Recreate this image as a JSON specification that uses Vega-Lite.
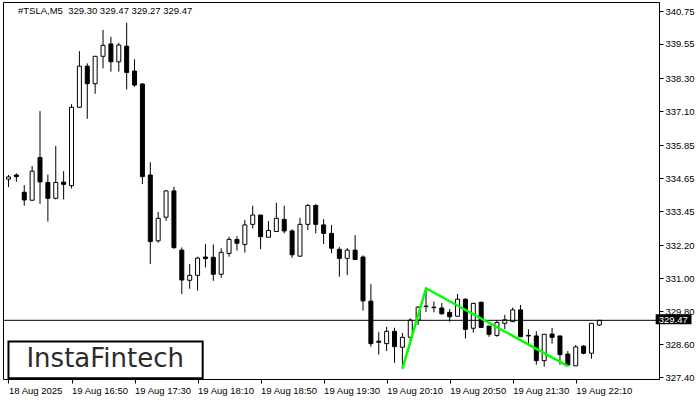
{
  "$schema": "https://vega.github.io/schema/vega-lite/v6.json",
  "width": 656,
  "height": 377,
  "autosize": "none",
  "padding": {"left": 3, "top": 2, "right": 41, "bottom": 21},
  "background": "white",
  "title": {
    "text": "#TSLA,M5\u00a0 329.30 329.47 329.27 329.47",
    "anchor": "start",
    "frame": "group",
    "offset": -13,
    "dx": 15,
    "fontSize": 9.5,
    "font": "Liberation Sans",
    "fontWeight": "normal",
    "color": "#000000"
  },
  "datasets": {
    "bars": [
      {"i": 0, "o": 334.62, "h": 334.77, "l": 334.33, "c": 334.70},
      {"i": 1, "o": 334.77, "h": 334.83, "l": 334.52, "c": 334.71},
      {"i": 2, "o": 334.14, "h": 334.40, "l": 333.65, "c": 333.86},
      {"i": 3, "o": 333.85, "h": 335.10, "l": 333.84, "c": 334.91},
      {"i": 4, "o": 335.41, "h": 337.10, "l": 333.72, "c": 334.52},
      {"i": 5, "o": 334.50, "h": 334.79, "l": 333.07, "c": 333.92},
      {"i": 6, "o": 333.92, "h": 335.83, "l": 333.88, "c": 334.50},
      {"i": 7, "o": 334.51, "h": 334.91, "l": 333.88, "c": 334.43},
      {"i": 8, "o": 334.38, "h": 337.35, "l": 334.28, "c": 337.24},
      {"i": 9, "o": 337.24, "h": 339.29, "l": 337.22, "c": 338.74},
      {"i": 10, "o": 338.74, "h": 338.84, "l": 336.82, "c": 338.10},
      {"i": 11, "o": 338.10, "h": 339.10, "l": 337.73, "c": 339.10},
      {"i": 12, "o": 339.10, "h": 340.06, "l": 338.66, "c": 339.50},
      {"i": 13, "o": 339.55, "h": 339.81, "l": 338.54, "c": 338.90},
      {"i": 14, "o": 338.90, "h": 339.59, "l": 338.54, "c": 339.51},
      {"i": 15, "o": 339.47, "h": 340.32, "l": 337.89, "c": 338.51},
      {"i": 16, "o": 338.56, "h": 338.99, "l": 337.99, "c": 338.05},
      {"i": 17, "o": 338.09, "h": 338.12, "l": 334.44, "c": 334.71},
      {"i": 18, "o": 334.77, "h": 335.24, "l": 331.52, "c": 332.34},
      {"i": 19, "o": 332.37, "h": 333.42, "l": 332.30, "c": 333.19},
      {"i": 20, "o": 333.23, "h": 334.22, "l": 333.10, "c": 334.19},
      {"i": 21, "o": 334.19, "h": 334.34, "l": 332.08, "c": 332.12},
      {"i": 22, "o": 332.03, "h": 332.13, "l": 330.43, "c": 330.94},
      {"i": 23, "o": 330.93, "h": 331.52, "l": 330.62, "c": 331.11},
      {"i": 24, "o": 331.11, "h": 331.79, "l": 330.55, "c": 331.74},
      {"i": 25, "o": 331.78, "h": 332.25, "l": 331.40, "c": 331.72},
      {"i": 26, "o": 331.77, "h": 332.24, "l": 330.91, "c": 331.15},
      {"i": 27, "o": 331.15, "h": 332.10, "l": 331.02, "c": 331.95},
      {"i": 28, "o": 331.91, "h": 332.52, "l": 331.79, "c": 332.42},
      {"i": 29, "o": 332.42, "h": 332.54, "l": 332.01, "c": 332.28},
      {"i": 30, "o": 332.24, "h": 333.13, "l": 331.94, "c": 332.95},
      {"i": 31, "o": 332.97, "h": 333.65, "l": 332.82, "c": 333.31},
      {"i": 32, "o": 333.31, "h": 333.31, "l": 332.07, "c": 332.52},
      {"i": 33, "o": 332.50, "h": 333.09, "l": 332.50, "c": 332.75},
      {"i": 34, "o": 332.71, "h": 333.76, "l": 332.71, "c": 333.19},
      {"i": 35, "o": 333.15, "h": 333.65, "l": 332.64, "c": 332.73},
      {"i": 36, "o": 332.73, "h": 332.79, "l": 331.75, "c": 331.86},
      {"i": 37, "o": 331.81, "h": 333.21, "l": 331.80, "c": 332.97},
      {"i": 38, "o": 332.97, "h": 333.71, "l": 332.76, "c": 333.66},
      {"i": 39, "o": 333.66, "h": 333.71, "l": 332.64, "c": 332.97},
      {"i": 40, "o": 332.95, "h": 333.16, "l": 332.25, "c": 332.64},
      {"i": 41, "o": 332.64, "h": 332.95, "l": 331.92, "c": 332.10},
      {"i": 42, "o": 332.06, "h": 332.14, "l": 331.06, "c": 331.73},
      {"i": 43, "o": 331.73, "h": 332.11, "l": 331.12, "c": 332.03},
      {"i": 44, "o": 332.03, "h": 332.58, "l": 331.69, "c": 331.69},
      {"i": 45, "o": 331.78, "h": 331.84, "l": 329.82, "c": 330.18},
      {"i": 46, "o": 330.17, "h": 330.79, "l": 328.51, "c": 328.62},
      {"i": 47, "o": 328.71, "h": 329.05, "l": 328.22, "c": 328.67},
      {"i": 48, "o": 328.62, "h": 329.23, "l": 328.35, "c": 329.07},
      {"i": 49, "o": 329.07, "h": 329.20, "l": 327.92, "c": 328.51},
      {"i": 50, "o": 328.49, "h": 329.01, "l": 327.70, "c": 328.85},
      {"i": 51, "o": 328.85, "h": 329.54, "l": 328.57, "c": 329.48},
      {"i": 52, "o": 329.48, "h": 329.98, "l": 329.30, "c": 329.95},
      {"i": 53, "o": 329.99, "h": 330.62, "l": 329.78, "c": 329.97},
      {"i": 54, "o": 329.95, "h": 330.16, "l": 329.76, "c": 329.93},
      {"i": 55, "o": 329.92, "h": 330.10, "l": 329.68, "c": 329.71},
      {"i": 56, "o": 329.76, "h": 329.88, "l": 329.42, "c": 329.60},
      {"i": 57, "o": 329.62, "h": 330.43, "l": 329.62, "c": 330.24},
      {"i": 58, "o": 330.24, "h": 330.27, "l": 328.81, "c": 329.14},
      {"i": 59, "o": 329.18, "h": 330.11, "l": 329.02, "c": 330.09},
      {"i": 60, "o": 330.13, "h": 330.15, "l": 329.19, "c": 329.21},
      {"i": 61, "o": 329.26, "h": 329.27, "l": 328.87, "c": 328.96},
      {"i": 62, "o": 328.92, "h": 329.47, "l": 328.87, "c": 329.39},
      {"i": 63, "o": 329.36, "h": 329.67, "l": 329.15, "c": 329.49},
      {"i": 64, "o": 329.42, "h": 329.94, "l": 329.42, "c": 329.85},
      {"i": 65, "o": 329.85, "h": 330.03, "l": 328.87, "c": 328.87},
      {"i": 66, "o": 328.92, "h": 329.14, "l": 328.53, "c": 328.90},
      {"i": 67, "o": 328.90, "h": 329.07, "l": 327.85, "c": 328.00},
      {"i": 68, "o": 328.00, "h": 328.96, "l": 327.78, "c": 328.96},
      {"i": 69, "o": 328.97, "h": 329.19, "l": 328.62, "c": 328.85},
      {"i": 70, "o": 328.90, "h": 328.90, "l": 327.85, "c": 328.22},
      {"i": 71, "o": 328.24, "h": 328.35, "l": 327.80, "c": 327.84},
      {"i": 72, "o": 327.81, "h": 328.57, "l": 327.81, "c": 328.50},
      {"i": 73, "o": 328.53, "h": 328.56, "l": 328.23, "c": 328.27},
      {"i": 74, "o": 328.27, "h": 329.36, "l": 328.07, "c": 329.36},
      {"i": 75, "o": 329.30, "h": 329.47, "l": 329.27, "c": 329.47}
    ],
    "pattern": [
      {"i": 50, "p": 327.70},
      {"i": 53, "p": 330.64},
      {"i": 71, "p": 327.80}
    ]
  },
  "layer": [
    {
      "data": {"name": "bars"},
      "mark": {"type": "rule", "color": "black", "strokeWidth": 1, "clip": true},
      "encoding": {
        "x": {
          "field": "i",
          "type": "quantitative",
          "title": null,
          "scale": {"domain": [-0.0625, 81.9375], "nice": false, "zero": false},
          "axis": {
            "orient": "bottom",
            "values": [0, 8, 16, 24, 32, 40, 48, 56, 64, 72],
            "tickCount": 30,
            "labelExpr": "datum.value == 0 ? '18 Aug 2025' : '19 Aug ' + floor((970 + 5 * datum.value) / 60) + ':' + ((970 + 5 * datum.value) % 60)",
            "labelAlign": "left",
            "labelBaseline": "top",
            "labelPadding": 2,
            "labelFlush": false,
            "labelOverlap": false,
            "title": null
          }
        },
        "y": {
          "field": "l",
          "type": "quantitative",
          "title": null,
          "scale": {"domain": [327.33, 341.08], "nice": false, "zero": false},
          "axis": {
            "orient": "right",
            "values": [327.4, 328.6, 329.8, 331, 332.2, 333.45, 334.65, 335.85, 337.1, 338.3, 339.55, 340.75],
            "tickCount": 30,
            "format": ".2f",
            "labelPadding": 2,
            "labelBaseline": "middle",
            "labelOverlap": false,
            "labelFlush": false,
            "labelBound": false,
            "title": null
          }
        },
        "y2": {"field": "h"}
      }
    },
    {
      "data": {"name": "bars"},
      "mark": {"type": "bar", "width": 4, "stroke": "black", "strokeWidth": 1, "clip": true},
      "encoding": {
        "x": {"field": "i", "type": "quantitative", "title": null},
        "y": {"field": "o", "type": "quantitative", "title": null},
        "y2": {"field": "c"},
        "fill": {
          "condition": {"test": "datum.c >= datum.o", "value": "white"},
          "value": "black"
        }
      }
    },
    {
      "data": {"values": [{}]},
      "mark": {"type": "rule", "color": "black", "strokeWidth": 1},
      "encoding": {"y": {"datum": 329.47, "type": "quantitative", "title": null}}
    },
    {
      "data": {"name": "pattern"},
      "mark": {"type": "line", "color": "#00FF00", "strokeWidth": 2.5, "clip": true},
      "encoding": {
        "x": {"field": "i", "type": "quantitative", "title": null},
        "y": {"field": "p", "type": "quantitative", "title": null}
      }
    },
    {
      "data": {"values": [{}]},
      "mark": {"type": "rect", "fill": "white", "stroke": "black", "strokeWidth": 2},
      "encoding": {
        "x": {"datum": 0, "type": "quantitative", "title": null},
        "x2": {"datum": 24.65},
        "y": {"datum": 328.70, "type": "quantitative", "title": null},
        "y2": {"datum": 327.36}
      }
    },
    {
      "data": {"values": [{}]},
      "mark": {"type": "text", "text": "InstaFintech", "font": "DejaVu Sans", "fontSize": 26, "color": "#2b2b2b", "align": "center", "baseline": "middle"},
      "encoding": {
        "x": {"datum": 12.28, "type": "quantitative", "title": null},
        "y": {"datum": 328.05, "type": "quantitative", "title": null}
      }
    },
    {
      "data": {"values": [{}]},
      "mark": {"type": "rect", "fill": "black", "clip": false},
      "encoding": {
        "x": {"datum": 82.15, "type": "quantitative", "title": null},
        "x2": {"datum": 86.7},
        "y": {"datum": 329.69, "type": "quantitative", "title": null},
        "y2": {"datum": 329.33}
      }
    },
    {
      "data": {"values": [{}]},
      "mark": {"type": "text", "text": "329.47", "font": "Liberation Sans", "fontSize": 9.5, "color": "white", "align": "left", "baseline": "middle", "dx": 3, "clip": false},
      "encoding": {
        "x": {"datum": 82.15, "type": "quantitative", "title": null},
        "y": {"datum": 329.47, "type": "quantitative", "title": null}
      }
    }
  ],
  "config": {
    "view": {"stroke": "black", "strokeWidth": 1},
    "axis": {
      "grid": false,
      "domain": false,
      "tickColor": "black",
      "tickSize": 4,
      "labelColor": "black",
      "labelFont": "Liberation Sans",
      "labelFontSize": 9.5,
      "labelOverlap": false
    }
  }
}
